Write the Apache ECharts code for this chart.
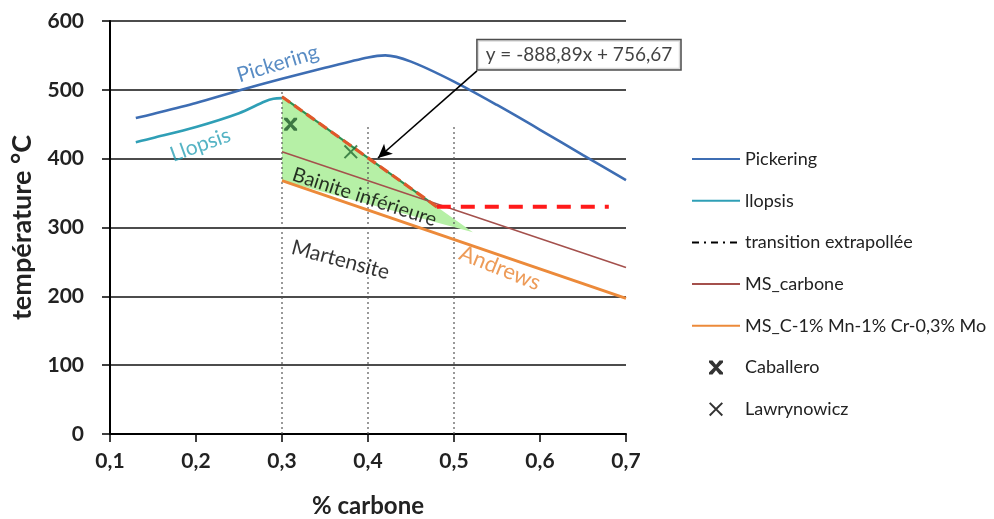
<!DOCTYPE html>
<html>
<head>
<meta charset="utf-8">
<script src="https://cdn.jsdelivr.net/npm/echarts@6/dist/echarts.min.js"></script>
<style>
html,body{margin:0;padding:0;background:#fff;}
#chart{width:994px;height:519px;}
</style>
</head>
<body>
<div id="chart"></div>
<script>
// ---------- data ----------
var xTicks = [0.1, 0.2, 0.3, 0.4, 0.5, 0.6, 0.7];
var yTicks = [0, 100, 200, 300, 400, 500, 600];

var pickering = [[0.13,459],[0.15,465],[0.2,481],[0.25,499],[0.3,516],[0.35,532],[0.4,547],[0.42,550],[0.45,541],[0.5,512],[0.55,478],[0.6,442],[0.65,405],[0.7,369]];
var llopsis = [[0.13,424],[0.15,430],[0.2,446],[0.25,466],[0.28,483],[0.29,487],[0.3,488]];
var transitionDiag = [[0.3,490],[0.48,330]];
var transitionFlat = [[0.48,330],[0.68,330]];
var msCarbone = [[0.3,410],[0.7,242]];
var msAlloy = [[0.3,368],[0.7,197]];
var caballero = [[0.31,450]];
var lawrynowicz = [[0.38,410]];
var bainiteZone = [[0.3,490],[0.48,330],[0.522,293],[0.3,368]];
var dotted03 = [[0.3,0],[0.3,500]];
var dotted04 = [[0.4,0],[0.4,450]];
var dotted05 = [[0.5,0],[0.5,450]];

var equationText = 'y = -888,89x + 756,67';
var equationAnchor = [0.6453, 551];
var arrowFrom = [0.5267, 527.6];
var arrowTo = [0.4116, 401];

var regionNames = ['Pickering', 'Llopsis', 'Bainite inférieure', 'Martensite', 'Andrews'];
var regionAnchors = [[0.295,538],[0.205,420],[0.396,344],[0.368,253],[0.5535,241]];

// ---------- styles ----------
var FONT = 'Lato';
var regionStyles = [
  {color:'#2f6fb5', rotate:17, fontSize:21},
  {color:'#2ba0b5', rotate:20, fontSize:21},
  {color:'#000', rotate:-18, fontSize:20},
  {color:'#000', rotate:-15, fontSize:21},
  {color:'#e8822e', rotate:-22, fontSize:22}
];

var X_SYM = 'path://M2,0 L10,8 L18,0 L20,2 L12,10 L20,18 L18,20 L10,12 L2,20 L0,18 L8,10 L0,2 Z';
var AST_SYM = 'path://M0,0 L5,0 L10,6 L15,0 L20,0 L20,3 L13,10 L20,17 L20,20 L15,20 L10,14 L5,20 L0,20 L0,17 L7,10 L0,3 Z';

var chart = echarts.init(document.getElementById('chart'), null, {renderer:'canvas'});

function lineSeries(name, data, color, width, type, z) {
  return {
    name: name, type: 'line', data: data, symbol: 'none', showSymbol: false,
    lineStyle: {color: color, width: width, type: type || 'solid'},
    itemStyle: {color: color},
    z: z || 3, silent: true, animation: false
  };
}

var series = [];
// green area
series.push({
  type: 'custom', name: 'zone', silent: true, z: 1, animation: false,
  data: bainiteZone,
  renderItem: function (params, api) {
    if (params.dataIndex !== 0) return null;
    var pts = bainiteZone.map(function (p) { return api.coord(p); });
    return {type: 'polygon', shape: {points: pts}, style: {fill: '#b6f0a6'}};
  }
});
// dotted verticals
[dotted03, dotted04, dotted05].forEach(function (d) {
  series.push(lineSeries('', d, '#555', 1.2, [2, 3], 2));
});
series.push(lineSeries('Pickering', pickering, '#3d6db3', 2.6, 'solid', 4));
series[series.length-1].smooth = 0.3;
series.push(lineSeries('llopsis', llopsis, '#2f9fb6', 2.6, 'solid', 4));
series[series.length-1].smooth = 0.3;
series.push(lineSeries('', transitionDiag, '#2f8f4f', 2.2, 'solid', 4));
series.push(lineSeries('transition extrapollée', transitionDiag, '#e0582a', 3.2, [10, 5], 5));
series.push(lineSeries('transition extrapollée', transitionFlat, '#ff1a1a', 4, [14, 10], 5));
series.push(lineSeries('MS_carbone', msCarbone, '#a4504c', 1.5, 'solid', 4));
series.push(lineSeries('MS_C-1% Mn-1% Cr-0,3% Mo', msAlloy, '#ec8a3a', 3, 'solid', 4));
series.push({
  name: 'Caballero', type: 'scatter', data: caballero, symbol: AST_SYM, symbolSize: 13,
  itemStyle: {color: '#1f5a2a'}, z: 6, animation: false, silent: true
});
series.push({
  name: 'Lawrynowicz', type: 'scatter', data: lawrynowicz, symbol: X_SYM, symbolSize: 14,
  itemStyle: {color: '#246a32'}, z: 6, animation: false, silent: true
});
// region labels
series.push({
  type: 'scatter', name: 'labels', symbolSize: 0, silent: true, z: 7, animation: false,
  data: regionAnchors.map(function (p, i) {
    var st = regionStyles[i];
    return {value: p, label: {show: true, position: 'inside', formatter: regionNames[i],
      rotate: st.rotate, color: st.color, fontSize: st.fontSize, fontFamily: FONT}};
  })
});
// equation box + arrow
series.push({
  type: 'scatter', name: 'eq', symbolSize: 0, silent: true, z: 8, animation: false,
  data: [{value: equationAnchor, label: {show: true, position: 'inside', formatter: equationText,
    color: '#111', fontSize: 19, fontFamily: FONT, backgroundColor: '#fff',
    borderColor: '#222', borderWidth: 1.5, padding: [5, 8, 5, 8]}}],
  markLine: {
    silent: true, animation: false, symbol: ['none', 'arrow'], symbolSize: [10, 14],
    label: {show: false},
    lineStyle: {color: '#000', width: 1.6, type: 'solid'},
    data: [[{coord: arrowFrom}, {coord: arrowTo}]]
  }
});

var hidden = {color: 'rgba(0,0,0,0)', borderWidth: 0, opacity: 0};

chart.setOption({
  animation: false,
  backgroundColor: '#fff',
  textStyle: {fontFamily: FONT},
  grid: {left: 110, right: 368, top: 21, bottom: 85, containLabel: false, outerBoundsMode: 'none'},
  legend: {
    orient: 'vertical', left: 686, top: 145, itemWidth: 48, itemHeight: 14, itemGap: 23.7,
    selectedMode: false,
    textStyle: {fontFamily: FONT, fontSize: 18, color: '#222'},
    data: [
      {name: 'Pickering', itemStyle: hidden},
      {name: 'llopsis', itemStyle: hidden},
      {name: 'transition extrapollée', itemStyle: hidden, lineStyle: {color: '#000', type: [7, 5, 2, 5], width: 2}},
      {name: 'MS_carbone', itemStyle: hidden},
      {name: 'MS_C-1% Mn-1% Cr-0,3% Mo', itemStyle: hidden},
      {name: 'Caballero', itemStyle: {color: '#000'}},
      {name: 'Lawrynowicz', itemStyle: {color: '#000'}}
    ]
  },
  xAxis: {
    type: 'value', min: xTicks[0], max: xTicks[xTicks.length-1], interval: 0.1,
    name: '% carbone', nameLocation: 'middle', nameGap: 60,
    nameTextStyle: {fontFamily: FONT, fontSize: 24, fontWeight: 'bold', color: '#222'},
    axisLine: {show: true, onZero: false, lineStyle: {color: '#000', width: 2}},
    axisTick: {show: true, length: 8, lineStyle: {color: '#000', width: 1.5}},
    axisLabel: {margin: 17, fontFamily: FONT, fontSize: 21, fontWeight: 'bold', color: '#222',
      formatter: function (v) { return (Math.round(v * 10) / 10).toFixed(1).replace('.', ','); }},
    splitLine: {show: false}
  },
  yAxis: {
    type: 'value', min: yTicks[0], max: yTicks[yTicks.length-1], interval: 100,
    name: 'température °C', nameLocation: 'middle', nameGap: 74, nameRotate: 90,
    nameTextStyle: {fontFamily: FONT, fontSize: 27, fontWeight: 'bold', color: '#222'},
    axisLine: {show: true, lineStyle: {color: '#000', width: 2}},
    axisTick: {show: true, length: 8, lineStyle: {color: '#000', width: 1.5}},
    axisLabel: {margin: 26, fontFamily: FONT, fontSize: 21, fontWeight: 'bold', color: '#222'},
    splitLine: {show: true, lineStyle: {color: '#111', width: 1.5}}
  },
  series: series
});
</script>
</body>
</html>
